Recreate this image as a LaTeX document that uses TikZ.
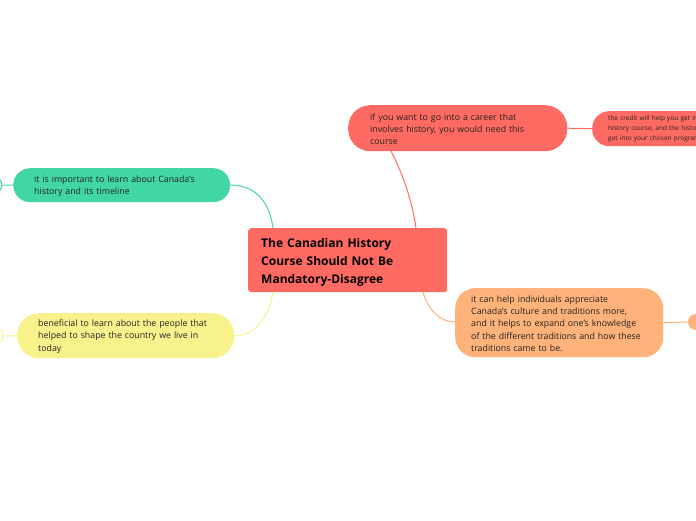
\documentclass[tikz,border=0pt]{standalone}
\usepackage{fontspec}
\setmainfont{Open Sans}
\definecolor{cred}{HTML}{FF6B63}
\definecolor{cgreen}{HTML}{42D6A4}
\definecolor{cyellow}{HTML}{F8F28C}
\definecolor{corange}{HTML}{FFB27A}
\definecolor{ctext}{HTML}{222222}
\tikzset{
  bubble/.style={rectangle, align=left, anchor=north west, inner ysep=0pt, text=ctext,
    font=\fontsize{8.8}{12.3}\selectfont},
  link/.style={line width=1pt},
}
\begin{document}
\begin{tikzpicture}[x=1pt,y=-1pt]
\useasboundingbox (0,0) rectangle (696,520);
\clip (0,0) rectangle (696,520);
% central
\node[bubble, fill=cred, rounded corners=3pt, minimum width=199pt, minimum height=64pt,
  text width=173pt, inner xsep=13pt, font=\bfseries\fontsize{12}{18}\selectfont, text=black] (central) at (248,228)
  {\strut The Canadian History\\Course Should Not Be\\Mandatory-Disagree};
% green
\node[bubble, fill=cgreen, rounded corners=17pt, minimum width=217pt, minimum height=34pt,
  text width=175pt, inner xsep=21pt] (green) at (13,168)
  {\strut it is important to learn about Canada's\\history and its timeline};
% yellow
\node[bubble, fill=cyellow, rounded corners=22pt, minimum width=217pt, minimum height=45pt,
  text width=175pt, inner xsep=21pt] (yellow) at (17,313)
  {\strut beneficial to learn about the people that\\helped to shape the country we live in\\today};
% red top
\node[bubble, fill=cred, rounded corners=22pt, minimum width=219pt, minimum height=46pt,
  text width=175pt, inner xsep=22pt] (redtop) at (348,105)
  {\strut if you want to go into a career that\\involves history, you would need this\\course};
% red right (partially off page)
\node[bubble, fill=cred, rounded corners=17pt, minimum width=200pt, minimum height=35pt,
  text width=168pt, inner xsep=16pt, font=\fontsize{6.5}{10}\selectfont] (redright) at (592,111)
  {the credit will help you get into a\\history course, and the history course\\get into your chosen program};
% orange
\node[bubble, fill=corange, rounded corners=20pt, minimum width=208pt, minimum height=69pt,
  text width=176pt, inner xsep=16pt] (orange) at (455,288)
  {\strut it can help individuals appreciate\\Canada's culture and traditions more,\\and it helps to expand one's knowledge\\of the different traditions and how these\\traditions came to be.};
% small end circles
\node[circle, draw=cgreen, line width=1pt, minimum size=16pt, inner sep=0pt] (gcirc) at (-6,185) {};
\node[circle, draw=cyellow, line width=1pt, minimum size=16pt, inner sep=0pt] (ycirc) at (-5,336) {};
\node[circle, fill=corange, minimum size=16pt, inner sep=0pt] (ocirc) at (696,322) {};
% anchor coordinates on central
\coordinate (ctg) at (273,228);
\coordinate (cty) at (273,292);
\coordinate (ctr) at (416,228);
\coordinate (cto) at (423,292);
\coordinate (gE) at (230,185);
\coordinate (yE) at (234,336);
\coordinate (rB) at (391,151);
\coordinate (oW) at (455,322);
% connectors
\draw[link, cgreen] (gE) .. controls (258,185) and (270,205) .. (ctg);
\draw[link, cyellow] (yE) .. controls (258,336) and (270,312) .. (cty);
\draw[link, cred] (rB) .. controls (402,172) and (412,200) .. (ctr);
\draw[link, corange] (cto) .. controls (428,310) and (440,322) .. (oW);
\draw[link, cred] (redtop.east) -- (redright.west);
\draw[link, corange] (orange.east) -- (ocirc.west);
\draw[link, cgreen] (gcirc.east) -- (green.west);
\draw[link, cyellow] (ycirc.east) -- (yellow.west);
\end{tikzpicture}
\end{document}
